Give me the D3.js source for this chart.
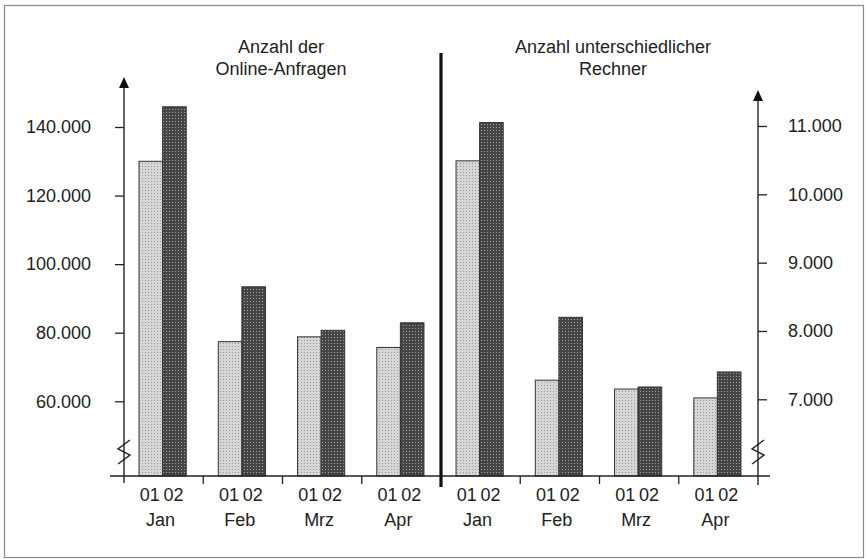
<!DOCTYPE html>
<html><head><meta charset="utf-8">
<script src="https://cdn.jsdelivr.net/npm/d3@7"></script>
<style>html,body{margin:0;padding:0;background:#fff}svg{display:block}</style>
</head><body>
<svg id="c" width="866" height="559"></svg>
<script>
// ---- data ----
const months = ["Jan", "Feb", "Mrz", "Apr"];
const years = ["01", "02"];
const anfragen01 = [130000, 77400, 78800, 75700];
const anfragen02 = [145900, 93400, 80700, 82900];
const rechner01 = [10490, 7280, 7150, 7020];
const rechner02 = [11050, 8200, 7180, 7400];
const leftTicks = [60000, 80000, 100000, 120000, 140000];
const rightTicks = [7000, 8000, 9000, 10000, 11000];
const titleLeft = ["Anzahl der", "Online-Anfragen"];
const titleRight = ["Anzahl unterschiedlicher", "Rechner"];

// ---- layout ----
const svg = d3.select("#c");
const FONT = "'Liberation Sans', Arial, sans-serif";
const ink = "#222";
const baseY = 476;
const axL = 124, axR = 758;

const de = d3.formatLocale({decimal: ",", thousands: ".", grouping: [3], currency: ["", "€"]});
const fmt = de.format(",d");

// patterns (halftone look)
const defs = svg.append("defs");
function dotPattern(id, bg, dot) {
  const p = defs.append("pattern").attr("id", id).attr("patternUnits", "userSpaceOnUse").attr("width", 3).attr("height", 3);
  p.append("rect").attr("width", 3).attr("height", 3).attr("fill", bg);
  p.append("rect").attr("x", 1).attr("y", 1).attr("width", 1).attr("height", 1).attr("fill", dot);
}
dotPattern("pLight", "#d6d6d6", "#999999");
dotPattern("pDark", "#454545", "#a4a4a4");

// frame
svg.append("rect").attr("x", 4.5).attr("y", 5.5).attr("width", 859).attr("height", 552)
  .attr("fill", "none").attr("stroke", "#8a8a8a").attr("stroke-width", 1.2);

// scales
const slots = ["L", "R"].flatMap(p => months.map(m => p + "-" + m));
const x = d3.scaleBand().domain(slots).range([axL, axR]).padding(0);
const xs = d3.scaleBand().domain(years).range([0, x.bandwidth()]).paddingInner(0).paddingOuter(0.68);
const yL = d3.scaleLinear().domain([60000, 140000]).range([401.3, 127]);
const yR = d3.scaleLinear().domain([7000, 11000]).range([399.3, 126]);

// bars
const rows = [];
months.forEach((m, i) => {
  rows.push({slot: "L-" + m, yr: "01", v: anfragen01[i], s: yL});
  rows.push({slot: "L-" + m, yr: "02", v: anfragen02[i], s: yL});
  rows.push({slot: "R-" + m, yr: "01", v: rechner01[i], s: yR});
  rows.push({slot: "R-" + m, yr: "02", v: rechner02[i], s: yR});
});
svg.append("g").selectAll("rect").data(rows).join("rect")
  .attr("x", d => x(d.slot) + xs(d.yr) - 1)
  .attr("width", xs.bandwidth())
  .attr("y", d => d.s(d.v))
  .attr("height", d => baseY - d.s(d.v))
  .attr("fill", d => d.yr === "01" ? "url(#pLight)" : "url(#pDark)")
  .attr("stroke", "#333").attr("stroke-width", 1);

// x axis baseline
svg.append("line").attr("x1", 110).attr("x2", 770).attr("y1", baseY).attr("y2", baseY)
  .attr("stroke", ink).attr("stroke-width", 1.3);
// category separators
const seps = slots.slice(1).map(s => x(s)).filter((v, i) => i !== 3);
svg.append("g").selectAll("line").data(seps).join("line")
  .attr("x1", d => d).attr("x2", d => d).attr("y1", baseY).attr("y2", baseY + 8)
  .attr("stroke", ink).attr("stroke-width", 1.3);

// category labels
const lab = svg.append("g").attr("font-family", FONT).attr("font-size", 18).attr("fill", ink).attr("text-anchor", "middle");
slots.forEach(s => {
  years.forEach(yr => {
    lab.append("text").attr("x", x(s) + xs(yr) + xs.bandwidth() / 2 - 2).attr("y", 501).text(yr);
  });
  lab.append("text").attr("x", x(s) + x.bandwidth() / 2 - 3).attr("y", 526).text(s.slice(2));
});

// y axes
function styleAxis(g) {
  g.select(".domain").remove();
  g.selectAll(".tick line").attr("stroke", ink).attr("stroke-width", 1.3);
  g.selectAll(".tick text").attr("font-family", FONT).attr("font-size", 18).attr("fill", ink);
}
svg.append("g").attr("transform", `translate(${axL},0)`)
  .call(d3.axisLeft(yL).tickValues(leftTicks).tickSize(9).tickPadding(24).tickFormat(fmt))
  .call(styleAxis);
svg.append("g").attr("transform", `translate(${axR},0)`)
  .call(d3.axisRight(yR).tickValues(rightTicks).tickSize(9).tickPadding(21).tickFormat(fmt))
  .call(styleAxis);

// axis lines with arrows
function vAxis(xp, top, bottom) {
  svg.append("line").attr("x1", xp).attr("x2", xp).attr("y1", top + 8).attr("y2", bottom)
    .attr("stroke", ink).attr("stroke-width", 1.4);
  svg.append("path").attr("d", `M${xp},${top} L${xp - 5},${top + 11} L${xp + 5},${top + 11} Z`).attr("fill", "#111");
  // break mark
  const by = 452;
  svg.append("path")
    .attr("d", `M${xp + 6},${by - 12} L${xp - 6},${by - 3} L${xp + 6},${by + 3} L${xp - 6},${by + 12}`)
    .attr("fill", "none").attr("stroke", ink).attr("stroke-width", 1.4);
}
vAxis(axL, 77, 483);
vAxis(axR, 90, 485);

// divider
svg.append("line").attr("x1", x("R-Jan")).attr("x2", x("R-Jan")).attr("y1", 53).attr("y2", 487)
  .attr("stroke", "#111").attr("stroke-width", 3.2);

// titles
const tg = svg.append("g").attr("font-family", FONT).attr("font-size", 18).attr("fill", ink).attr("text-anchor", "middle");
titleLeft.forEach((t, i) => tg.append("text").attr("x", 281).attr("y", 53 + i * 22).text(t));
titleRight.forEach((t, i) => tg.append("text").attr("x", 613).attr("y", 53 + i * 22).text(t));
</script>
</body></html>
